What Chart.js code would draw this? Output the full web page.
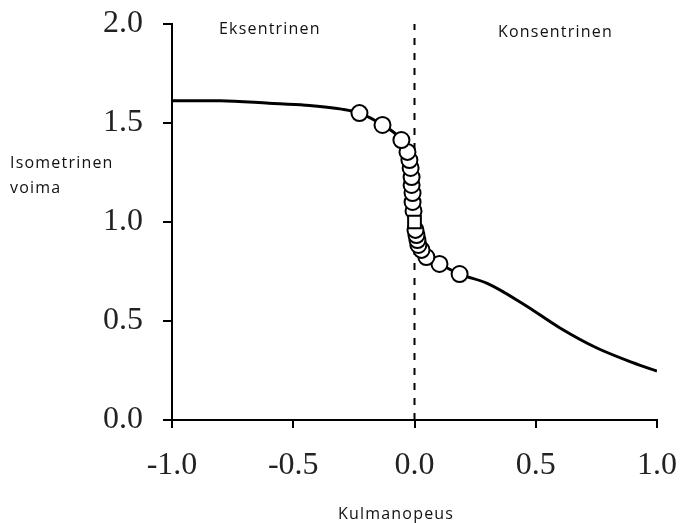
<!DOCTYPE html>
<html>
<head>
<meta charset="utf-8">
<script src="https://cdn.jsdelivr.net/npm/chart.js@4/dist/chart.umd.min.js"></script>
<style>
html,body{margin:0;padding:0;background:#fff;}
#wrap{width:683px;height:523px;position:relative;}
</style>
</head>
<body>
<div id="wrap"><canvas id="c" width="683" height="523"></canvas></div>
<script>
// Force-velocity curve
const curveX = [-1.0, -0.8, -0.6, -0.45, -0.3, -0.227, -0.132, -0.054, -0.029, -0.016, -0.01, -0.005, 0.0, 0.008, 0.02, 0.049, 0.103, 0.186, 0.3, 0.45, 0.6, 0.75, 0.9, 1.0];
const curveY = [1.613, 1.612, 1.60, 1.59, 1.57, 1.55, 1.49, 1.414, 1.354, 1.273, 1.187, 1.10, 1.0, 0.934, 0.88, 0.823, 0.788, 0.737, 0.69, 0.585, 0.465, 0.365, 0.29, 0.247];
// Measured points (circles), ordered bottom to top
const pointX = [0.186, 0.103, 0.049, 0.029, 0.016, 0.012, 0.008, 0.004, -0.004, -0.008, -0.008, -0.012, -0.012, -0.016, -0.021, -0.029, -0.054, -0.132, -0.227];
const pointY = [0.737, 0.788, 0.823, 0.859, 0.884, 0.909, 0.934, 0.96, 1.056, 1.101, 1.146, 1.187, 1.227, 1.273, 1.313, 1.354, 1.414, 1.49, 1.55];
// Isometric reference point (square)
const isoX = [0.0];
const isoY = [1.0];
// Zero-velocity divider
const dividerX = [0, 0];
const dividerY = [0, 2.0];
const xTicks = [-1.0, -0.5, 0.0, 0.5, 1.0];
const yTicks = [0.0, 0.5, 1.0, 1.5, 2.0];

const zip = (xs, ys) => xs.map((x, i) => ({x: x, y: ys[i]}));

const labelsPlugin = {
  id: 'labels',
  afterDraw(chart) {
    const ctx = chart.ctx;
    ctx.save();
    ctx.fillStyle = '#111';
    ctx.font = '16px "Open Sans"';
    ctx.letterSpacing = '1.2px';
    ctx.textBaseline = 'alphabetic';
    ctx.textAlign = 'left';
    ctx.fillText('Isometrinen', 10, 168);
    ctx.fillText('voima', 10, 193);
    ctx.fillText('Eksentrinen', 219, 34);
    ctx.fillText('Konsentrinen', 498, 37);
    ctx.fillText('Kulmanopeus', 338, 519);
    ctx.restore();
  }
};

new Chart(document.getElementById('c'), {
  type: 'scatter',
  data: {
    datasets: [
      {
        label: 'iso',
        data: zip(isoX, isoY),
        pointStyle: 'rect',
        pointRadius: 9,
        backgroundColor: '#fff',
        borderColor: '#000',
        borderWidth: 2,
        showLine: false
      },
      {
        label: 'points',
        data: zip(pointX, pointY),
        pointStyle: 'circle',
        pointRadius: 8,
        backgroundColor: '#fff',
        borderColor: '#000',
        borderWidth: 2,
        showLine: false
      },
      {
        label: 'curve',
        data: zip(curveX, curveY),
        showLine: true,
        pointRadius: 0,
        borderColor: '#000',
        borderWidth: 3,
        cubicInterpolationMode: 'monotone',
        fill: false
      },
      {
        label: 'divider',
        data: zip(dividerX, dividerY),
        showLine: true,
        pointRadius: 0,
        borderColor: '#000',
        borderWidth: 2,
        borderDash: [7, 8],
        fill: false
      }
    ]
  },
  options: {
    responsive: false,
    animation: false,
    events: [],
    layout: {padding: {left: 0, right: 26, top: 24, bottom: 0}},
    plugins: {legend: {display: false}, tooltip: {enabled: false}},
    scales: {
      x: {
        type: 'linear',
        min: -1, max: 1,
        afterBuildTicks: (s) => { s.ticks = xTicks.map(v => ({value: v})); },
        afterFit: (s) => { s.height = 103; s.paddingLeft = 0; s.paddingRight = 0; },
        ticks: {
          callback: (v) => Number(v).toFixed(1),
          font: {family: '"Liberation Serif"', size: 32},
          color: '#222',
          padding: 18,
          maxRotation: 0
        },
        grid: {drawOnChartArea: false, drawTicks: true, tickLength: 8, color: '#000', lineWidth: 2},
        border: {display: true, color: '#000', width: 2}
      },
      y: {
        type: 'linear',
        min: 0, max: 2,
        afterBuildTicks: (s) => { s.ticks = yTicks.map(v => ({value: v})); },
        afterFit: (s) => { s.width = 172; s.paddingTop = 0; s.paddingBottom = 0; },
        ticks: {
          callback: (v) => Number(v).toFixed(1),
          font: {family: '"Liberation Serif"', size: 32},
          color: '#222',
          padding: 20
        },
        grid: {drawOnChartArea: false, drawTicks: true, tickLength: 9, color: '#000', lineWidth: 2},
        border: {display: true, color: '#000', width: 2}
      }
    }
  },
  plugins: [labelsPlugin]
});
</script>
</body>
</html>
